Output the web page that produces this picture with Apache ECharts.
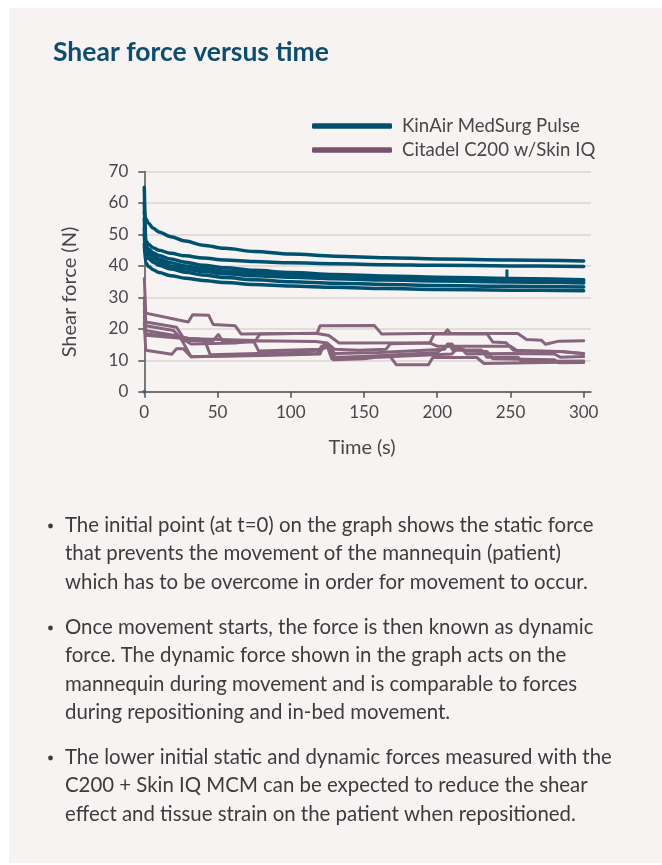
<!DOCTYPE html>
<html><head><meta charset="utf-8">
<script src="https://cdn.jsdelivr.net/npm/echarts@6/dist/echarts.min.js"></script>
<style>html,body{margin:0;padding:0;background:#fff;}#c{width:662px;height:865px;}</style>
</head><body><div id="c"></div>
<script>
// ---------- text ----------
const titleText = 'Shear force versus time';
const seriesNames = ['KinAir MedSurg Pulse', 'Citadel C200 w/Skin IQ'];
const xAxisTitle = 'Time (s)';
const yAxisTitle = 'Shear force (N)';
const xTickValues = [0, 50, 100, 150, 200, 250, 300];
const yTickValues = [0, 10, 20, 30, 40, 50, 60, 70];
const bullet1 = ['The initial point (at t=0) on the graph shows the static force',
  'that prevents the movement of the mannequin (patient)',
  'which has to be overcome in order for movement to occur.'];
const bullet2 = ['Once movement starts, the force is then known as dynamic',
  'force. The dynamic force shown in the graph acts on the',
  'mannequin during movement and is comparable to forces',
  'during repositioning and in-bed movement.'];
const bullet3 = ['The lower initial static and dynamic forces measured with the',
  'C200 + Skin IQ MCM can be expected to reduce the shear',
  'effect and tissue strain on the patient when repositioned.'];

// ---------- KinAir MedSurg Pulse runs (time s, force N) ----------
const kinairTime = [0, 1, 3, 6, 10, 18, 28, 40, 55, 75, 100, 130, 165, 200, 250, 300];
const kinairRun1 = [57, 55, 53.5, 52, 50.8, 49.3, 47.9, 46.6, 45.6, 44.6, 43.8, 43.1, 42.6, 42.2, 41.9, 41.6];
const kinairRun2 = [65, 48, 46.8, 45.8, 45, 44, 43.2, 42.5, 41.9, 41.4, 41.0, 40.7, 40.4, 40.2, 40.0, 39.8];
const kinairRun3 = [60, 46.5, 45.3, 44.2, 43.3, 42.2, 41.2, 40.2, 39.4, 38.6, 37.9, 37.3, 36.8, 36.4, 36.0, 35.6];
const kinairRun4 = [55, 45.5, 44.3, 43.2, 42.2, 41, 40, 39.2, 38.4, 37.7, 37.1, 36.6, 36.1, 35.8, 35.5, 35.2];
const kinairRun5 = [52, 44.5, 43.3, 42.2, 41.2, 40, 39, 38.2, 37.5, 36.9, 36.4, 35.9, 35.5, 35.2, 34.9, 34.6];
const kinairRun6 = [50, 43.5, 42.3, 41.2, 40.2, 39.0, 38.0, 37.1, 36.3, 35.6, 35.0, 34.5, 34.1, 33.8, 33.5, 33.3];
const kinairRun7 = [47, 41, 39.8, 38.8, 37.9, 36.9, 36.1, 35.4, 34.7, 34.1, 33.6, 33.2, 32.8, 32.5, 32.3, 32.1];
// short spike on run 4 near t=248
const kinairSpike = [[247.6, 35.5], [247.6, 38.9]];
const originPoint = [[0, 0]];

// ---------- Citadel C200 w/Skin IQ runs ([time s, force N]) ----------
const citadelRun1 = [[0,36],[1,25],[30,22.2],[33,24.5],[44,24.3],[47,21.4],[62,21],[66,18.4],[118,18.6],[120,21],[157,21.1],[162,18.4],[205,18.6],[207,19.7],[209,18.6],[255,18.5],[261,16.6],[271,16.4],[274,15.1],[283,16.1],[300,16.2]];
const citadelRun2 = [[0,30],[1,22.2],[22,20.5],[27,16.9],[76,16.3],[79,18.4],[117,18.6],[126,17.9],[133,15.5],[195,15.6],[198,18.4],[234,18.4],[238,15.8],[247,15.6],[252,13.2],[286,12.7],[300,12.2]];
const citadelRun3 = [[0,28],[1,21],[20,19.5],[25,16.9],[32,11.1],[80,11.5],[120,12],[122.5,14.8],[126,14.8],[130,11],[168,11.2],[172,8.6],[194,8.6],[197,10.9],[227,10.9],[232,9],[284,9.4],[300,9.6]];
const citadelRun4 = [[0,26],[1,18.4],[25,17.3],[28,16.3],[47,16.3],[50.6,18.2],[54,15.8],[75,15.8],[78,13],[120,13.5],[122,14.5],[126,14.5],[130,12.2],[160,12.5],[205,13.5],[207,15.2],[210,15.2],[213,13.2],[230,13.3],[234,11],[255,11],[258,9.6],[300,9.8]];
const citadelRun5 = [[0,22],[1,13.2],[18.7,11.9],[22,13.7],[26.7,13.7],[32,11.1],[118,12.2],[121,14.5],[127,14.3],[129,10.2],[150,10.5],[158,11],[210,12],[213,13.5],[217,13.5],[220,12],[250,12.2],[280,12],[284,11],[300,11.2]];
const citadelRun6 = [[0,24],[1,19.5],[20,18],[30,17],[38,16.8],[42,15.5],[45,11.8],[110,12.6],[121,13.5],[125,14.3],[128,10.5],[140,11],[200,12.5],[206,14.5],[209,14.5],[211,13],[215,14],[220,13],[234,12.8],[238,10.5],[280,10.2],[283,9.2],[300,9.3]];
const citadelRun7 = [[0,20],[1,18],[25,17],[32,15.2],[62,15.5],[76,16.2],[117,16],[125,15.5],[130,13.5],[147,13.2],[165,13.5],[168,15.3],[195,15.5],[200,14.5],[250,14.5],[255,13],[285,12.8],[300,12.1]];

// ---------- styling ----------
const TEAL = '#00506f';
const PURPLE_LINE = '#86647c';
const PURPLE_LEGEND = '#7a506c';
const FONT = 'Lato, "Open Sans", sans-serif';
const AXIS_TXT = '#474747';
const BODY_TXT = '#3c3c3c';

const chart = echarts.init(document.getElementById('c'), null, {renderer: 'canvas'});

function zip(times, vals) { return times.map((t, i) => [t, vals[i]]); }

const kinairData = [kinairRun1, kinairRun2, kinairRun3, kinairRun4, kinairRun5, kinairRun6, kinairRun7]
  .map(r => zip(kinairTime, r));
const citadelData = [citadelRun1, citadelRun2, citadelRun3, citadelRun4, citadelRun5, citadelRun6, citadelRun7];

const series = [];
citadelData.forEach(d => series.push({
  type: 'line', name: seriesNames[1], data: d, symbol: 'none', smooth: false,
  lineStyle: {width: 3, color: PURPLE_LINE, join: 'round', cap: 'round'}, itemStyle: {color: PURPLE_LINE},
  emphasis: {disabled: true}, animation: false, z: 2
}));
kinairData.forEach(d => series.push({
  type: 'line', name: seriesNames[0], data: d, symbol: 'none', smooth: 0.35, smoothMonotone: 'x',
  lineStyle: {width: 3.5, color: TEAL, cap: 'round'}, itemStyle: {color: TEAL},
  emphasis: {disabled: true}, animation: false, z: 3
}));
series.push({
  type: 'line', name: seriesNames[0], data: kinairSpike, symbol: 'none',
  lineStyle: {width: 3, color: TEAL}, itemStyle: {color: TEAL}, emphasis: {disabled: true}, animation: false, z: 3
});
series.push({type: 'scatter', data: originPoint, symbolSize: 4, itemStyle: {color: '#3d5f86'}, animation: false, z: 4});

const graphics = [
  {type: 'rect', shape: {x: 9, y: 8, width: 653, height: 855}, style: {fill: '#f6f3f2'}, z: -10, silent: true},
  {type: 'text', x: 53, y: 52, style: {text: titleText, fill: '#0e4d6c', font: 'bold 26.5px ' + FONT, verticalAlign: 'middle'}},
  {type: 'text', x: 362, y: 448, style: {text: xAxisTitle, fill: AXIS_TXT, font: '20px ' + FONT, align: 'center', verticalAlign: 'middle'}},
  {type: 'text', x: 70, y: 292, rotation: Math.PI / 2, style: {text: yAxisTitle, fill: AXIS_TXT, font: '20px ' + FONT, align: 'center', verticalAlign: 'middle'}}
];
const bullets = [bullet1, bullet2, bullet3];
const bulletStartY = [525, 627, 757];
const LINE_STEP = 28.6;
bullets.forEach((lines, bi) => {
  graphics.push({type: 'circle', shape: {cx: 50.5, cy: bulletStartY[bi] + 1, r: 2.4}, style: {fill: BODY_TXT}});
  lines.forEach((ln, li) => graphics.push({
    type: 'text', x: 65, y: bulletStartY[bi] + li * LINE_STEP,
    style: {text: ln, fill: BODY_TXT, font: '20.4px ' + FONT, verticalAlign: 'middle'}
  }));
});

chart.setOption({
  animation: false,
  backgroundColor: 'transparent',
  textStyle: {fontFamily: FONT},
  grid: {left: 144.3, top: 171.5, width: 446.7, height: 220.3, containLabel: false},
  legend: {
    orient: 'vertical', left: 312, top: 116, padding: 0, itemWidth: 80, itemHeight: 5.5, itemGap: 4,
    icon: 'roundRect', selectedMode: false,
    data: [{name: seriesNames[0], itemStyle: {color: TEAL}}, {name: seriesNames[1], itemStyle: {color: PURPLE_LEGEND}}],
    textStyle: {fontSize: 18.6, color: AXIS_TXT, fontFamily: FONT, padding: [0, 0, 0, 5], lineHeight: 20}
  },
  xAxis: {
    type: 'value', min: 0, max: 305, interval: 50,
    axisLine: {show: true, lineStyle: {color: '#505050', width: 1.5}},
    axisTick: {show: true, length: 6, customValues: xTickValues, lineStyle: {color: '#505050', width: 1.5}},
    axisLabel: {customValues: xTickValues, margin: 12, fontSize: 17, color: AXIS_TXT, fontFamily: FONT},
    splitLine: {show: false}
  },
  yAxis: {
    type: 'value', min: 0, max: 70, interval: 10,
    axisLine: {show: true, lineStyle: {color: '#505050', width: 1.5}},
    axisTick: {show: true, length: 6, lineStyle: {color: '#505050', width: 1.5}},
    axisLabel: {margin: 16, fontSize: 17, color: AXIS_TXT, fontFamily: FONT},
    splitLine: {show: true, lineStyle: {color: '#dcd6d1', width: 1.5}}
  },
  graphic: graphics,
  series: series
});
</script></body></html>
